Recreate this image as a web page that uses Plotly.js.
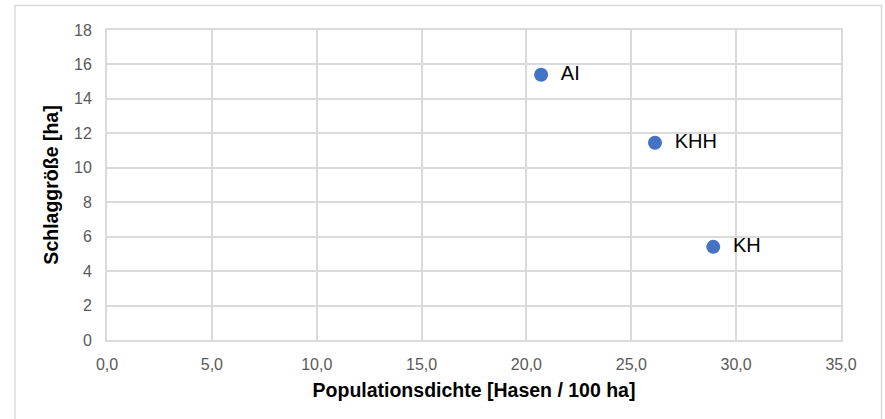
<!DOCTYPE html>
<html>
<head>
<meta charset="utf-8">
<script src="https://cdn.plot.ly/plotly-3.0.1.min.js"></script>
<style>
html,body{margin:0;padding:0;background:#fff;}
#chart{width:885px;height:419px;}
</style>
</head>
<body>
<div id="chart"></div>
<script>
const labels = ["AI", "KHH", "KH"];
const dichte = [20.7, 26.13, 28.91];
const schlag = [15.4, 11.45, 5.41];
const xTickVals = [0, 5, 10, 15, 20, 25, 30, 35];
const xTickText = ["0,0", "5,0", "10,0", "15,0", "20,0", "25,0", "30,0", "35,0"];
const yTickVals = [0, 2, 4, 6, 8, 10, 12, 14, 16, 18];

const trace = {
  x: dichte,
  y: schlag,
  text: labels.map(t => "\u2002" + t),
  mode: "markers+text",
  type: "scatter",
  textposition: "middle right",
  textfont: {family: "Liberation Sans, Arial, sans-serif", size: 20, color: "#000000"},
  marker: {color: "#4472C4", size: 14},
  cliponaxis: false,
  hoverinfo: "x+y"
};

const gridColor = "#dadada";
const layout = {
  width: 885,
  height: 419,
  margin: {l: 107, r: 44, t: 29.5, b: 79},
  paper_bgcolor: "#ffffff",
  plot_bgcolor: "#ffffff",
  showlegend: false,
  font: {family: "Liberation Sans, Arial, sans-serif", color: "#595959", size: 16},
  xaxis: {
    range: [0, 35],
    tickvals: xTickVals,
    ticktext: xTickText,
    showgrid: true,
    gridcolor: gridColor,
    gridwidth: 2,
    zeroline: false,
    showline: true,
    linecolor: gridColor,
    linewidth: 2,
    mirror: true,
    ticks: "",
    ticklabelstandoff: 9,
    tickfont: {size: 16, color: "#595959"},
    title: {text: "<b>Populationsdichte [Hasen / 100 ha]</b>", font: {size: 19.5, color: "#000000"}, standoff: 11}
  },
  yaxis: {
    range: [0, 18],
    tickvals: yTickVals,
    showgrid: true,
    gridcolor: gridColor,
    gridwidth: 2,
    zeroline: false,
    showline: true,
    linecolor: gridColor,
    linewidth: 2,
    mirror: true,
    ticks: "",
    ticklabelstandoff: 10,
    tickfont: {size: 16, color: "#595959"},
    title: {text: "<b>Schlaggröße [ha]</b>", font: {size: 19.5, color: "#000000"}, standoff: 10}
  },
  shapes: [
    {type: "rect", xref: "paper", yref: "paper",
     x0: (15 - 107) / 734, x1: (881.5 - 107) / 734,
     y0: (340 - 430) / 310.5, y1: (340 - 5) / 310.5,
     line: {color: "#d9d9d9", width: 1.5}, fillcolor: "rgba(0,0,0,0)", layer: "below"}
  ]
};

Plotly.newPlot("chart", [trace], layout, {staticPlot: true, displayModeBar: false});
</script>
</body>
</html>
